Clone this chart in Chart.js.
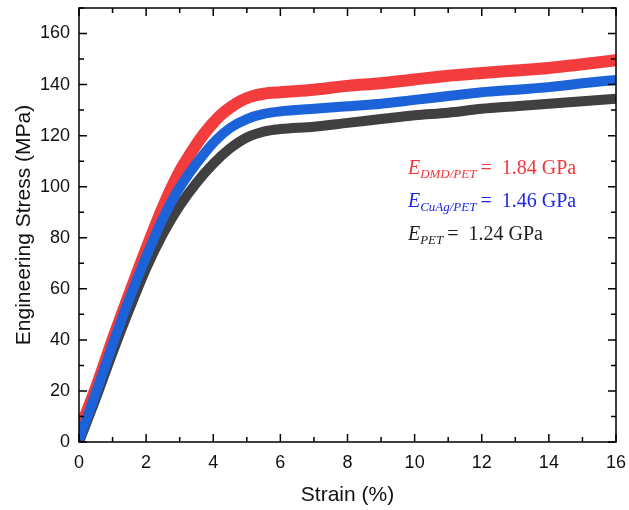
<!DOCTYPE html>
<html>
<head>
<meta charset="utf-8">
<script src="https://cdn.jsdelivr.net/npm/chart.js@4"></script>
<style>
  html, body { margin: 0; padding: 0; background: #fff; }
  #wrap { width: 629px; height: 510px; }
</style>
</head>
<body>
<div id="wrap"><canvas id="myChart"></canvas></div>
<script>
// strain (%) / stress (MPa)
const strainDMD = [0, 0.5, 1.0, 1.5, 2.0, 2.5, 3.0, 3.3, 3.6, 3.9, 4.2, 4.5, 4.8, 5.1, 5.5, 6, 7, 8, 9, 10, 11, 12, 13, 14, 15, 16];
const stressDMD = [4, 21, 40, 58, 75.5, 92, 106, 112.5, 118.5, 123.5, 127.8, 131, 133.5, 135.2, 136.4, 137, 138, 139.5, 140.5, 142, 143.5, 144.5, 145.5, 146.5, 148, 149.5];

const strainCuAg = [0, 0.5, 1.0, 1.5, 2.0, 2.5, 2.9, 3.3, 3.7, 4.1, 4.5, 5.0, 5.5, 6, 7, 8, 9, 10, 11, 12, 13, 14, 15, 16];
const stressCuAg = [1, 19, 38, 56, 72.5, 87.5, 97.5, 105.5, 112.5, 118.5, 123, 126.5, 128.5, 129.5, 130.5, 131.5, 132.5, 134, 135.5, 137, 138, 139, 140.5, 141.8];

const strainPET = [0, 0.5, 1.0, 1.5, 2.0, 2.5, 3.0, 3.5, 4.0, 4.5, 5.0, 5.5, 6, 7, 8, 9, 10, 11, 12, 13, 14, 15, 16];
const stressPET = [0, 17, 35, 52, 68, 81.5, 92.5, 101.5, 109, 115, 119.3, 121.6, 122.6, 123.5, 125, 126.5, 128, 129, 130.5, 131.5, 132.5, 133.5, 134.5];

const xTicks = [0, 2, 4, 6, 8, 10, 12, 14, 16];
const yTicks = [0, 20, 40, 60, 80, 100, 120, 140, 160];

const labels = [
  { sub: 'DMD/PET', val: '1.84 GPa', color: 'rgb(240, 56, 60)', x: 9.8, y: 105 },
  { sub: 'CuAg/PET', val: '1.46 GPa', color: 'rgb(30, 40, 230)', x: 9.8, y: 92 },
  { sub: 'PET', val: '1.24 GPa', color: 'rgb(30, 30, 30)', x: 9.8, y: 79 }
];

const pts = (xs, ys) => xs.map((x, i) => ({ x: x, y: ys[i] }));

// inside ticks on all four sides + the text labels
const frame = {
  id: 'frame',
  afterDraw(chart) {
    const c = chart.ctx, a = chart.chartArea;
    const xs = chart.scales.x, ys = chart.scales.y;
    c.save();
    c.strokeStyle = '#000';
    c.lineWidth = 1.5;
    c.strokeRect(a.left, a.top, a.right - a.left, a.bottom - a.top);
    c.beginPath();
    for (let v = 0; v <= 16; v += 1) {
      const px = xs.getPixelForValue(v), len = v % 2 === 0 ? 8 : 5;
      c.moveTo(px, a.bottom); c.lineTo(px, a.bottom - len);
      c.moveTo(px, a.top); c.lineTo(px, a.top + len);
    }
    for (let v = 0; v <= 170; v += 10) {
      const py = ys.getPixelForValue(v), len = v % 20 === 0 ? 8 : 5;
      c.moveTo(a.left, py); c.lineTo(a.left + len, py);
      c.moveTo(a.right, py); c.lineTo(a.right - len, py);
    }
    c.stroke();

    c.textBaseline = 'alphabetic';
    labels.forEach(l => {
      let px = xs.getPixelForValue(l.x);
      const py = ys.getPixelForValue(l.y);
      c.fillStyle = l.color;
      c.font = 'italic 20px "Liberation Serif"';
      c.fillText('E', px, py);
      px += c.measureText('E').width;
      c.font = 'italic 13px "Liberation Serif"';
      c.fillText(l.sub, px, py + 4);
      px += c.measureText(l.sub).width + 4;
      c.font = '20px "Liberation Serif"';
      c.fillText('=  ' + l.val, px, py);
    });
    c.restore();
  }
};

Chart.defaults.font.family = '"Liberation Sans", Arial, sans-serif';
Chart.defaults.color = '#111';

const ctx = document.getElementById('myChart');

new Chart(ctx, {
  type: 'line',
  data: {
    datasets: [
      {
        label: 'DMD/PET',
        data: pts(strainDMD, stressDMD),
        borderColor: 'rgb(242, 60, 62)',
        borderWidth: 12,
        pointRadius: 0,
        cubicInterpolationMode: 'monotone',
        order: 3
      },
      {
        label: 'PET',
        data: pts(strainPET, stressPET),
        borderColor: 'rgb(64, 64, 64)',
        borderWidth: 10,
        pointRadius: 0,
        cubicInterpolationMode: 'monotone',
        order: 2
      },
      {
        label: 'CuAg/PET',
        data: pts(strainCuAg, stressCuAg),
        borderColor: 'rgb(28, 98, 216)',
        borderWidth: 10,
        pointRadius: 0,
        cubicInterpolationMode: 'monotone',
        order: 1
      }
    ]
  },
  options: {
    responsive: true,
    maintainAspectRatio: false,
    animation: false,
    layout: { padding: { top: 8, right: 13, left: 0, bottom: 0 } },
    plugins: { legend: { display: false }, tooltip: { enabled: false } },
    scales: {
      x: {
        type: 'linear',
        min: 0, max: 16,
        afterBuildTicks: s => { s.ticks = xTicks.map(v => ({ value: v })); },
        afterFit: s => { s.height = 68; s.paddingLeft = 0; s.paddingRight = 0; },
        grid: { display: false, drawTicks: false },
        border: { display: false },
        ticks: { padding: 10, font: { size: 18 }, maxRotation: 0 },
        title: { display: true, text: 'Strain (%)', font: { size: 21 }, padding: { top: 0, bottom: 2 } }
      },
      y: {
        type: 'linear',
        min: 0, max: 170,
        afterBuildTicks: s => { s.ticks = yTicks.map(v => ({ value: v })); },
        afterFit: s => { s.width = 79; s.paddingTop = 0; s.paddingBottom = 0; },
        grid: { display: false, drawTicks: false },
        border: { display: false },
        ticks: { padding: 9, font: { size: 18 } },
        title: { display: true, text: 'Engineering Stress (MPa)', font: { size: 21 }, padding: { top: 12, bottom: 0 } }
      }
    }
  },
  plugins: [frame]
});
</script>
</body>
</html>
